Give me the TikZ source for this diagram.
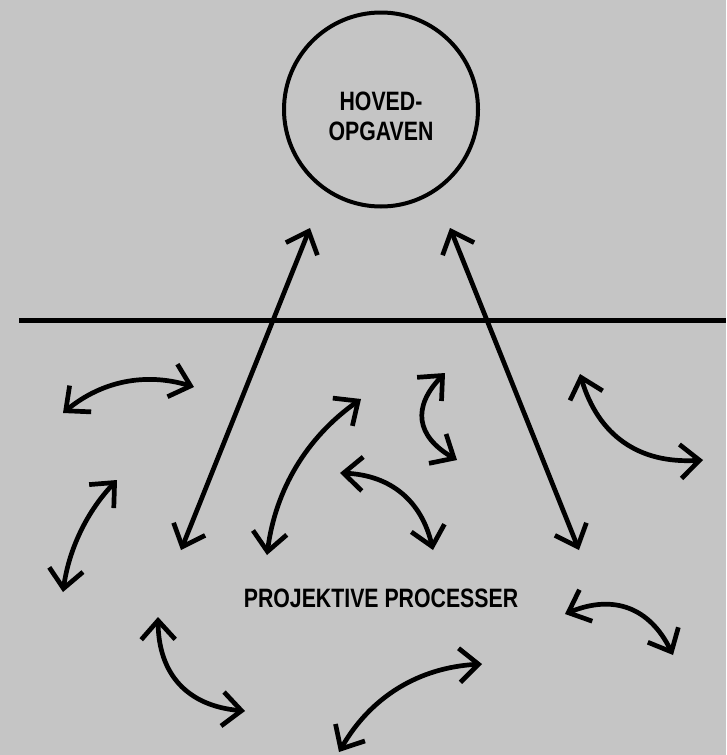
\documentclass[tikz,border=0pt]{standalone}
\usepackage{fontspec}
\newfontfamily\condfont[FakeStretch=0.80]{Liberation Sans Bold}
\usetikzlibrary{arrows.meta}
\definecolor{bgc}{RGB}{197,197,197}
\tikzset{
  dblarrow/.style={line width=4.7pt,{Straight Barb[length=19pt,width=34pt]}-{Straight Barb[length=19pt,width=34pt]}},
  labeltext/.style={font=\condfont\fontsize{26.6}{30}\selectfont,inner sep=0pt,anchor=base},
  mainring/.style={circle,draw,line width=4pt,minimum size=194pt,inner sep=0pt}
}
\begin{document}
\begin{tikzpicture}[x=1pt,y=-1pt]
\fill[bgc] (0,0) rectangle (726,755);
\useasboundingbox (0,0) rectangle (726,755);
% main circle
\node[mainring] (hoved) at (381,109.5) {};
\node[labeltext] (t1) at (381,110) {HOVED-};
\node[labeltext] (t2) at (381,140) {OPGAVEN};
\node[labeltext] (proj) at (381,607) {PROJEKTIVE PROCESSER};
% horizontal divider
\coordinate (lineL) at (19,320.5);
\coordinate (lineR) at (726,320.5);
\draw[line width=5pt] (lineL) -- (lineR);
% straight long arrows
\coordinate (s1a) at (310,228);
\coordinate (s1b) at (181,550);
\coordinate (s2a) at (450,228);
\coordinate (s2b) at (579,550);
\draw[dblarrow] (s1a) -- (s1b);
\draw[dblarrow] (s2a) -- (s2b);
% curved arrows
\coordinate (a0) at (63,413);  \coordinate (a1) at (194,387);
\draw[dblarrow] (a0) .. controls (102,381) and (145.7,372.3) .. (a1);
\coordinate (b0) at (63,592);  \coordinate (b1) at (117,480);
\draw[dblarrow] (b0) .. controls (69,548.9) and (87,511.5) .. (b1);
\coordinate (c0) at (267,555); \coordinate (c1) at (361,399);
\draw[dblarrow] (c0) .. controls (275.5,489.3) and (306.8,437.3) .. (c1);
\coordinate (d0) at (340,473); \coordinate (d1) at (433,550);
\draw[dblarrow] (d0) .. controls (390.5,475.1) and (421.5,500.7) .. (d1);
\coordinate (e0) at (445,373); \coordinate (e1) at (457,460);
\draw[dblarrow] (e0) .. controls (412,407) and (416,436.1) .. (e1);
\coordinate (f0) at (580,374); \coordinate (f1) at (703,460);
\draw[dblarrow] (f0) .. controls (598.1,435.5) and (639.1,464.1) .. (f1);
\coordinate (g0) at (565,614); \coordinate (g1) at (673,655);
\draw[dblarrow] (g0) .. controls (613.8,594) and (649.8,607.7) .. (g1);
\coordinate (h0) at (158,617); \coordinate (h1) at (245,711);
\draw[dblarrow] (h0) .. controls (158.6,674.6) and (187.6,705.9) .. (h1);
\coordinate (i0) at (339,752); \coordinate (i1) at (482,664);
\draw[dblarrow] (i0) .. controls (370.5,697.3) and (418.1,667.6) .. (i1);
\end{tikzpicture}
\end{document}
